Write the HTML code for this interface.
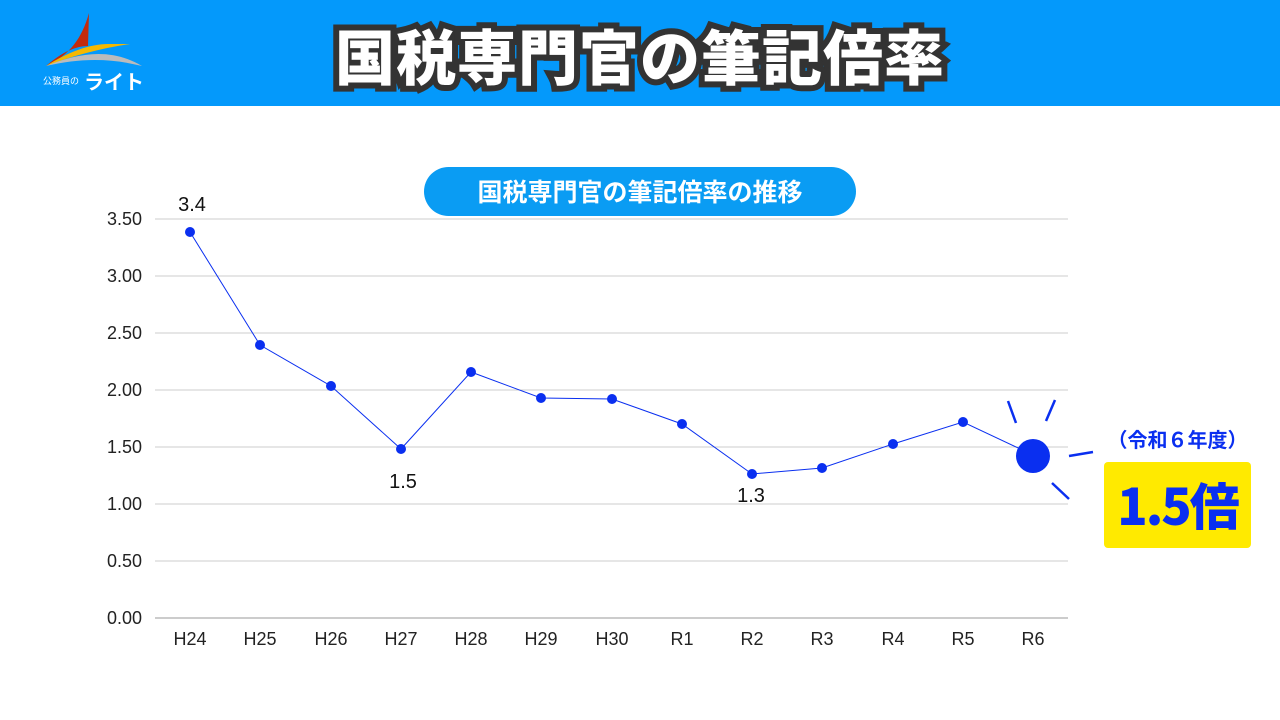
<!DOCTYPE html>
<html><head><meta charset="utf-8"><style>
body{margin:0;width:1280px;height:720px;background:#fff;overflow:hidden;font-family:"Liberation Sans","Noto Sans CJK JP",sans-serif;position:relative}
.hdr{position:absolute;left:0;top:0;width:1280px;height:106px;background:#0499fb}
.title{position:absolute;left:0;width:1280px;top:11px;text-align:center;font-size:60px;font-weight:900;color:#fff;letter-spacing:1px;
 -webkit-text-stroke:12px #333;paint-order:stroke fill;font-family:"Noto Sans CJK JP",sans-serif}
.pill{position:absolute;left:424px;top:167px;width:432px;height:49px;border-radius:25px;background:#0a9cf3;color:#fff;font-size:25px;font-weight:bold;text-align:center;line-height:49px;font-family:"Noto Sans CJK JP",sans-serif}
.yb{position:absolute;left:1104px;top:462px;width:147px;height:86px;background:#ffea00;border-radius:4px;color:#0a2ff0;font-size:50px;font-weight:900;text-align:center;line-height:84px;font-family:"Noto Sans CJK JP",sans-serif;letter-spacing:-2px}
.rw{position:absolute;left:1104px;top:424px;width:147px;text-align:center;color:#0a2ff0;font-weight:bold;font-size:20px;font-family:"Noto Sans CJK JP",sans-serif}
</style></head><body>
<div class="hdr"></div>
<svg style="position:absolute;left:40px;top:10px" width="110" height="85">
<path d="M49 3 C42 28 30 45 6 56 C22 42 36 36 48 36 Z" fill="#c42a0c"/>
<path d="M6 56 C28 42 50 34 68 34 L90 34 C62 38 32 46 6 56Z" fill="#f5b800"/>
<path d="M6 56 C40 42 72 38 102 56 C70 48 40 48 6 56Z" fill="#bbb"/>
<text x="3" y="74" font-size="9" fill="#fff">公務員の</text>
<text x="44" y="79" font-size="20" font-weight="bold" fill="#fff">ライト</text>
</svg>
<div class="title">国税専門官の筆記倍率</div>
<svg style="position:absolute;left:0;top:0" width="1280" height="720" font-family="Liberation Sans, sans-serif">
<g stroke="#ccc" stroke-width="1">
<line x1="155" x2="1068" y1="219" y2="219"/><line x1="155" x2="1068" y1="276" y2="276"/><line x1="155" x2="1068" y1="333" y2="333"/><line x1="155" x2="1068" y1="390" y2="390"/><line x1="155" x2="1068" y1="447" y2="447"/><line x1="155" x2="1068" y1="504" y2="504"/><line x1="155" x2="1068" y1="561" y2="561"/><line x1="155" x2="1068" y1="618" y2="618" stroke="#999"/>
</g>
<g font-size="18" fill="#222" text-anchor="end">
<text x="142" y="225">3.50</text><text x="142" y="282">3.00</text><text x="142" y="339">2.50</text><text x="142" y="396">2.00</text><text x="142" y="453">1.50</text><text x="142" y="510">1.00</text><text x="142" y="567">0.50</text><text x="142" y="624">0.00</text>
</g>
<g font-size="18" fill="#222" text-anchor="middle">
<text x="190" y="645">H24</text><text x="260" y="645">H25</text><text x="331" y="645">H26</text><text x="401" y="645">H27</text><text x="471" y="645">H28</text><text x="541" y="645">H29</text><text x="612" y="645">H30</text><text x="682" y="645">R1</text><text x="752" y="645">R2</text><text x="822" y="645">R3</text><text x="893" y="645">R4</text><text x="963" y="645">R5</text><text x="1033" y="645">R6</text>
</g>
<polyline fill="none" stroke="#0a2ff0" stroke-width="1" points="190,232 260,345 331,386 401,449 471,372 541,398 612,399 682,424 752,474 822,468 893,444 963,422 1033,455"/>
<g fill="#0a2ff0">
<circle cx="190" cy="232" r="5"/><circle cx="260" cy="345" r="5"/><circle cx="331" cy="386" r="5"/><circle cx="401" cy="449" r="5"/><circle cx="471" cy="372" r="5"/><circle cx="541" cy="398" r="5"/><circle cx="612" cy="399" r="5"/><circle cx="682" cy="424" r="5"/><circle cx="752" cy="474" r="5"/><circle cx="822" cy="468" r="5"/><circle cx="893" cy="444" r="5"/><circle cx="963" cy="422" r="5"/><circle cx="1033" cy="456" r="17"/>
</g>
<g stroke="#0a2ff0" stroke-width="2.5">
<line x1="1008" y1="401" x2="1016" y2="423"/><line x1="1055" y1="400" x2="1046" y2="421"/><line x1="1069" y1="456" x2="1093" y2="452"/><line x1="1052" y1="483" x2="1069" y2="499"/>
</g>
<g font-size="20" fill="#111" text-anchor="middle">
<text x="192" y="211">3.4</text><text x="403" y="488">1.5</text><text x="751" y="502">1.3</text>
</g>
</svg>
<div class="pill">国税専門官の筆記倍率の推移</div>
<div class="rw">（令和６年度）</div>
<div class="yb">1.5倍</div>
</body></html>
